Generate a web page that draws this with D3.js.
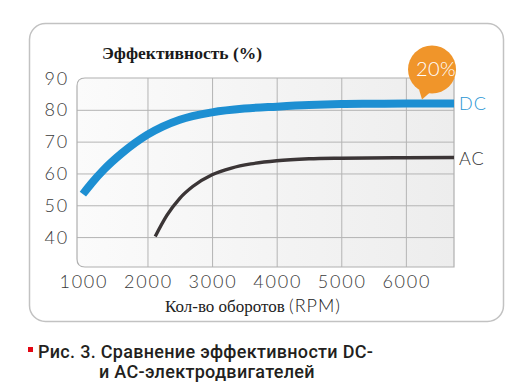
<!DOCTYPE html>
<html><head><meta charset="utf-8">
<script src="https://cdn.jsdelivr.net/npm/d3@7"></script>
<style>body{margin:0;background:#fff}svg{display:block}</style>
</head><body>
<svg id="c" width="530" height="390"></svg>
<script>
// ---- data ----
const rpmTicks = [1000, 2000, 3000, 4000, 5000, 6000];
const effTicks = [40, 50, 60, 70, 80, 90];
const dcRpm = [1000, 1130, 1330, 1600, 2000, 2500, 3000, 3500, 4000, 4500, 5000, 5500, 6000, 6745];
const dcEff = [53.5, 56.8, 61.3, 66.3, 72.2, 76.9, 79.2, 80.4, 81.0, 81.5, 81.8, 81.9, 82.0, 82.0];
const acRpm = [2120, 2300, 2500, 2700, 3000, 3300, 3600, 4000, 4500, 5000, 6000, 6745];
const acEff = [40.2, 46.8, 52.2, 55.9, 59.6, 61.7, 63.0, 64.0, 64.6, 64.8, 64.95, 65.0];
const seriesNames = ["DC", "AC"];
const gainLabel = "20%";
const gainRpm = 6250;
const yTitle = "Эффективность (%)";
const xTitleRu = "Кол-во оборотов ";
const xTitleUnit = "(RPM)";
const captionLines = ["Рис. 3. Сравнение эффективности DC-", "и AC-электродвигателей"];

// ---- drawing ----
const svg = d3.select("#c");
const x = d3.scaleLinear().domain([909, 6745]).range([77, 454]);
const y = d3.scaleLinear().domain([30.6, 90]).range([267, 78]);
const [x0, x1] = x.range();
const [yb, yt] = y.range();
const lightFont = "Lato, 'Open Sans', sans-serif";

// card
svg.append("rect").attr("x", 29.5).attr("y", 23.5).attr("width", 474).attr("height", 298)
  .attr("rx", 16).attr("fill", "#fff").attr("stroke", "#c2c2c2").attr("stroke-width", 1.5);

// plot background gradient
const defs = svg.append("defs");
const g = defs.append("linearGradient").attr("id", "bg").attr("x1", "0").attr("x2", "1").attr("y1", "0").attr("y2", "0");
g.append("stop").attr("offset", "0").attr("stop-color", "#fbfbfb");
g.append("stop").attr("offset", "1").attr("stop-color", "#ededed");

const r = 8;
const plotPath = `M${x1},${yt} L${x0 + r},${yt} Q${x0},${yt} ${x0},${yt + r} L${x0},${yb - r} Q${x0},${yb} ${x0 + r},${yb} L${x1},${yb} Z`;
svg.append("path").attr("d", plotPath).attr("fill", "url(#bg)");

// grid
svg.append("g").selectAll("line").data(effTicks.filter(d => d < 90)).join("line")
  .attr("x1", x0).attr("x2", x1).attr("y1", d => y(d) + 0.5).attr("y2", d => y(d) + 0.5)
  .attr("stroke", "#b4b4b4").attr("stroke-width", 1);
svg.append("g").selectAll("line").data(rpmTicks.filter(d => d > 1000)).join("line")
  .attr("y1", yt).attr("y2", yb).attr("x1", d => x(d) + 0.5).attr("x2", d => x(d) + 0.5)
  .attr("stroke", "#b4b4b4").attr("stroke-width", 1);
svg.append("path").attr("d", plotPath).attr("fill", "none").attr("stroke", "#b0b0b0").attr("stroke-width", 1.2);

// axis tick labels
svg.append("g").selectAll("text").data(rpmTicks).join("text")
  .attr("x", d => x(d) + 1).attr("y", 288).attr("text-anchor", "middle")
  .attr("font-family", lightFont).attr("font-weight", 300).attr("font-size", 18)
  .attr("letter-spacing", 1.8).attr("fill", "#3a3a3a").text(d => d);
svg.append("g").selectAll("text").data(effTicks).join("text")
  .attr("x", 69).attr("y", d => y(d) + 6.5).attr("text-anchor", "end")
  .attr("font-family", lightFont).attr("font-weight", 300).attr("font-size", 18)
  .attr("letter-spacing", 1.8).attr("fill", "#3a3a3a").text(d => d);

// titles
svg.append("text").attr("x", 102).attr("y", 59).attr("font-family", "'Liberation Serif', 'DejaVu Serif', serif")
  .attr("font-weight", "bold").attr("font-size", 17.5).attr("fill", "#1a1a1a").text(yTitle);
const xt = svg.append("text").attr("x", 253).attr("y", 312).attr("text-anchor", "middle").attr("fill", "#222");
xt.append("tspan").attr("font-family", "'Liberation Serif', serif").attr("font-size", 17).text(xTitleRu);
xt.append("tspan").attr("font-family", lightFont).attr("font-weight", 300).attr("font-size", 18).attr("letter-spacing", 1).text(xTitleUnit);

// lines
const line = d3.line().x(d => x(d[0])).y(d => y(d[1])).curve(d3.curveMonotoneX);
const dc = dcRpm.map((v, i) => [v, dcEff[i]]);
const ac = acRpm.map((v, i) => [v, acEff[i]]);
svg.append("path").attr("d", line(ac)).attr("fill", "none").attr("stroke", "#3b3536").attr("stroke-width", 3.4);
svg.append("path").attr("d", line(dc)).attr("fill", "none").attr("stroke", "#1d8fd2").attr("stroke-width", 8);

// series labels
const ends = [[dc, "#2a96d4"], [ac, "#333"]];
svg.append("g").selectAll("text").data(seriesNames).join("text")
  .attr("x", x1 + 5).attr("y", (d, i) => y(ends[i][0][ends[i][0].length - 1][1]) + 7)
  .attr("font-family", lightFont).attr("font-weight", 300).attr("font-size", 18).attr("letter-spacing", 1)
  .attr("fill", (d, i) => ends[i][1]).text(d => d);

// gain bubble
const tipX = x(gainRpm), tipY = y(dcEff[dcEff.length - 1]) - 4;
const cx = tipX + 10, cy = tipY - 30;
svg.append("path").attr("d", `M${tipX - 3},${tipY - 10} L${tipX},${tipY} L${tipX + 9},${tipY - 8} Z`).attr("fill", "#f0952a");
svg.append("circle").attr("cx", cx).attr("cy", cy).attr("r", 24).attr("fill", "#f0952a");
svg.append("text").attr("x", cx + 4).attr("y", cy + 7).attr("text-anchor", "middle")
  .attr("font-family", lightFont).attr("font-weight", 300).attr("font-size", 20).attr("letter-spacing", 0.5)
  .attr("fill", "#fff").text(gainLabel);

// caption
svg.append("rect").attr("x", 28).attr("y", 347).attr("width", 5).attr("height", 5).attr("fill", "#e30613");
svg.append("g").selectAll("text").data(captionLines).join("text")
  .attr("x", (d, i) => i ? 99 : 38).attr("y", (d, i) => 358 + i * 20)
  .attr("font-family", "Roboto, 'Noto Sans', sans-serif").attr("font-weight", 500).attr("font-size", 18)
  .attr("letter-spacing", 0.3).attr("fill", "#231f20").text(d => d);
</script>
</body></html>
